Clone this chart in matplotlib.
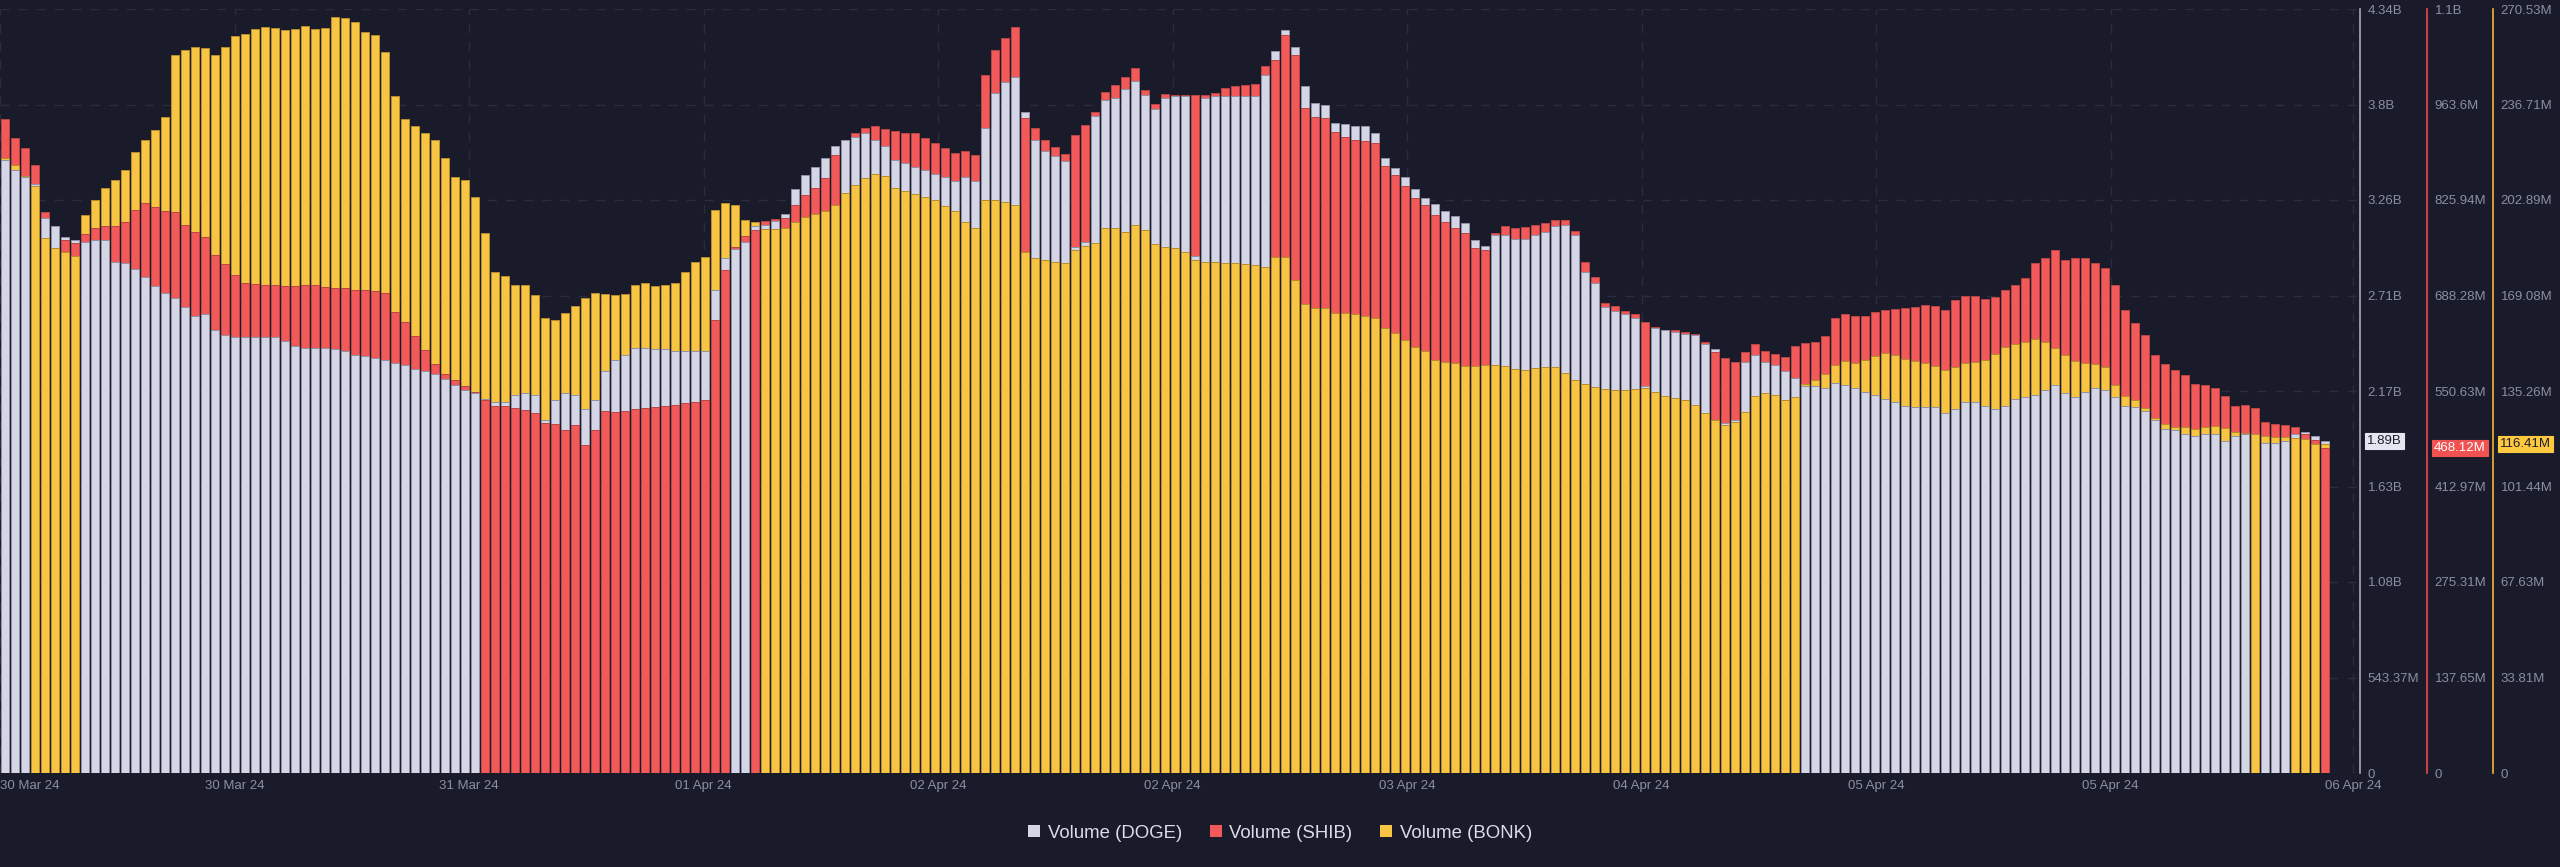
from __future__ import annotations

import matplotlib

matplotlib.use("Agg")

import matplotlib.pyplot as plt
import numpy as np
from matplotlib.patches import Rectangle
from matplotlib.transforms import ScaledTranslation, blended_transform_factory


OUTPUT = "out.png"

# Rolling volume, one bar every ~45 min, 30 Mar 24 -> 06 Apr 24
DOGE_VOLUME_B = [
    3.49, 3.43, 3.39, 3.35, 3.16, 3.11, 3.05, 3.03, 3.02, 3.03,
    3.03, 2.91, 2.90, 2.87, 2.82, 2.77, 2.73, 2.70, 2.65, 2.60,
    2.61, 2.52, 2.49, 2.48, 2.48, 2.48, 2.48, 2.48, 2.46, 2.43,
    2.42, 2.42, 2.42, 2.41, 2.40, 2.38, 2.37, 2.36, 2.35, 2.33,
    2.32, 2.30, 2.29, 2.27, 2.24, 2.21, 2.18, 2.16, 2.13, 2.11,
    2.11, 2.15, 2.16, 2.15, 2.01, 2.12, 2.16, 2.15, 2.07, 2.12,
    2.29, 2.35, 2.38, 2.42, 2.42, 2.41, 2.41, 2.40, 2.40, 2.40,
    2.40, 2.75, 2.93, 2.98, 3.02, 3.11, 3.12, 3.14, 3.18, 3.32,
    3.40, 3.45, 3.50, 3.57, 3.60, 3.62, 3.64, 3.60, 3.57, 3.49,
    3.47, 3.45, 3.43, 3.41, 3.39, 3.37, 3.39, 3.37, 3.67, 3.87,
    3.93, 3.96, 3.76, 3.60, 3.54, 3.51, 3.48, 2.99, 3.02, 3.74,
    3.83, 3.84, 3.89, 3.94, 3.86, 3.78, 3.84, 3.85, 3.85, 2.94,
    3.84, 3.85, 3.85, 3.85, 3.85, 3.85, 3.97, 4.11, 4.23, 4.13,
    3.91, 3.81, 3.80, 3.70, 3.69, 3.68, 3.68, 3.64, 3.50, 3.44,
    3.39, 3.32, 3.27, 3.24, 3.20, 3.17, 3.13, 3.03, 3.00, 3.06,
    3.06, 3.04, 3.04, 3.06, 3.08, 3.11, 3.12, 3.06, 2.85, 2.79,
    2.65, 2.63, 2.61, 2.59, 2.20, 2.53, 2.52, 2.51, 2.50, 2.49,
    2.44, 2.41, 1.99, 2.01, 2.34, 2.38, 2.34, 2.32, 2.29, 2.25,
    2.20, 2.20, 2.19, 2.22, 2.21, 2.19, 2.17, 2.15, 2.13, 2.11,
    2.09, 2.08, 2.08, 2.08, 2.05, 2.07, 2.11, 2.11, 2.09, 2.07,
    2.09, 2.13, 2.14, 2.15, 2.18, 2.21, 2.16, 2.14, 2.17, 2.19,
    2.18, 2.14, 2.09, 2.08, 2.06, 2.01, 1.96, 1.95, 1.93, 1.92,
    1.93, 1.93, 1.89, 1.92, 1.93, 1.93, 1.88, 1.88, 1.89, 1.93,
    1.94, 1.92, 1.89,
]

SHIB_VOLUME_M = [
    943, 915, 901, 876, 809, 788, 768, 764, 777, 786,
    788, 788, 794, 812, 822, 816, 810, 809, 790, 780,
    773, 747, 734, 718, 706, 705, 703, 703, 702, 702,
    703, 703, 701, 699, 699, 696, 696, 695, 692, 664,
    650, 630, 610, 590, 575, 566, 558, 549, 538, 529,
    529, 526, 523, 519, 504, 503, 494, 502, 473, 494,
    522, 520, 522, 525, 526, 528, 529, 530, 533, 535,
    538, 653, 725, 758, 774, 783, 796, 799, 800, 819,
    833, 843, 858, 891, 912, 922, 930, 933, 928, 925,
    922, 922, 915, 908, 901, 894, 897, 891, 1006, 1042,
    1059, 1075, 944, 930, 912, 902, 892, 920, 934, 953,
    982, 992, 1003, 1016, 984, 964, 979, 977, 977, 977,
    977, 980, 987, 990, 992, 993, 1019, 1028, 1064, 1035,
    959, 946, 944, 924, 917, 912, 911, 908, 875, 862,
    846, 829, 819, 804, 794, 786, 778, 757, 754, 778,
    788, 786, 787, 790, 793, 797, 797, 781, 737, 715,
    677, 673, 666, 662, 650, 643, 639, 639, 636, 633,
    621, 607, 598, 592, 607, 618, 608, 604, 600, 615,
    620, 621, 630, 656, 662, 659, 659, 664, 667, 669,
    670, 672, 675, 673, 667, 682, 688, 688, 683, 686,
    696, 703, 713, 735, 742, 754, 739, 742, 742, 735,
    728, 703, 667, 649, 631, 602, 590, 581, 574, 561,
    559, 555, 543, 529, 530, 526, 506, 503, 502, 499,
    489, 480, 468.1,
]

BONK_VOLUME_M = [
    217.8, 215.3, 211.4, 207.9, 189.4, 185.9, 184.5, 183.1, 197.6, 202.9,
    207.1, 210.0, 213.5, 219.9, 224.1, 227.7, 232.3, 254.2, 256.0, 257.1,
    256.7, 254.2, 257.1, 261.0, 261.7, 263.4, 264.2, 263.8, 263.1, 263.4,
    264.5, 263.4, 263.8, 267.7, 267.3, 265.9, 262.4, 261.3, 255.3, 239.7,
    231.6, 229.1, 226.6, 224.1, 217.8, 211.0, 210.0, 204.0, 191.2, 177.4,
    176.0, 172.8, 172.8, 169.3, 161.1, 160.4, 162.9, 165.4, 168.2, 170.0,
    169.6, 169.3, 169.6, 172.8, 173.5, 172.4, 172.8, 173.5, 177.4, 180.9,
    182.7, 199.4, 201.8, 201.1, 195.8, 195.1, 192.6, 192.6, 193.0, 195.1,
    196.9, 197.9, 199.0, 201.1, 205.4, 208.2, 210.7, 212.1, 211.4, 207.1,
    206.1, 205.0, 204.0, 202.9, 200.8, 199.0, 195.1, 193.0, 202.9, 202.9,
    202.2, 201.1, 184.5, 182.4, 181.7, 180.9, 180.6, 185.2, 186.6, 187.7,
    193.0, 193.0, 191.6, 194.0, 192.3, 187.3, 186.3, 185.9, 184.5, 181.7,
    180.9, 180.9, 180.6, 180.6, 180.2, 179.9, 179.2, 182.7, 182.7, 174.6,
    166.1, 164.7, 164.7, 162.9, 162.9, 162.5, 161.8, 161.1, 157.6, 155.8,
    153.3, 150.8, 149.4, 146.2, 145.5, 145.2, 144.1, 144.1, 144.5, 144.5,
    144.1, 143.1, 142.7, 143.4, 143.8, 143.8, 141.6, 139.2, 137.7, 136.7,
    136.0, 135.6, 135.6, 136.0, 136.3, 134.9, 133.5, 132.8, 132.1, 130.3,
    127.5, 125.0, 123.2, 124.3, 127.8, 133.5, 134.6, 133.8, 132.1, 133.1,
    137.7, 139.2, 141.3, 144.5, 145.9, 145.2, 146.2, 147.7, 148.7, 148.0,
    146.6, 145.9, 145.2, 144.1, 142.7, 143.8, 145.2, 145.5, 146.2, 148.4,
    150.8, 151.9, 152.6, 153.7, 152.6, 150.5, 148.0, 145.9, 145.2, 144.8,
    143.8, 137.4, 133.5, 132.1, 129.2, 125.7, 123.6, 122.5, 122.5, 121.8,
    122.5, 122.9, 122.2, 120.7, 120.4, 120.0, 119.3, 119.0, 119.0, 118.6,
    118.3, 116.5, 116.4,
]

SERIES_NAMES = ["Volume (DOGE)", "Volume (SHIB)", "Volume (BONK)"]
LAST_VALUE_LABELS = ["1.89B", "468.12M", "116.41M"]

DATE_LABELS = [
    "30 Mar 24", "30 Mar 24", "31 Mar 24", "01 Apr 24", "02 Apr 24", "02 Apr 24",
    "03 Apr 24", "04 Apr 24", "05 Apr 24", "05 Apr 24", "06 Apr 24",
]

DOGE_STEP_B = 0.54337
SHIB_STEP_M = 137.65
BONK_STEP_M = 33.816
DOGE_TICK_LABELS = ["0", "543.37M", "1.08B", "1.63B", "2.17B", "2.71B", "3.26B", "3.8B", "4.34B"]
SHIB_TICK_LABELS = ["0", "137.65M", "275.31M", "412.97M", "550.63M", "688.28M", "825.94M", "963.6M", "1.1B"]
BONK_TICK_LABELS = ["0", "33.81M", "67.63M", "101.44M", "135.26M", "169.08M", "202.89M", "236.71M", "270.53M"]


BG = "#191b2a"
GRID = "#2a2d3e"
MUTED = "#8b8fa3"
FILLS = ["#d4d5e5", "#f25a5a", "#f7c443"]
EDGES = ["#8f91a6", "#b94545", "#b58d2c"]
SPINES = ["#a9abbd", "#f04848", "#f2b534"]
BADGE_BG = ["#e4e5f0", "#f05252", "#ffc93f"]
BADGE_FG = ["#1b1d2c", "#ffffff", "#1b1d2c"]

# plot area in pixels of the 2560x867 canvas
PLOT_W_PX = 2360
BAR_PX = 10


def main() -> None:
    plt.rcParams["font.family"] = ["Liberation Sans", "DejaVu Sans"]

    fig = plt.figure(figsize=(25.6, 8.67), dpi=100, facecolor=BG)
    ax = fig.add_axes([0.0, 94 / 867, PLOT_W_PX / 2560, 764 / 867])
    ax.set_facecolor(BG)
    ax_shib = ax.twinx()
    ax_bonk = ax.twinx()
    axes = [ax, ax_shib, ax_bonk]

    values = [np.array(DOGE_VOLUME_B), np.array(SHIB_VOLUME_M), np.array(BONK_VOLUME_M)]
    steps = [DOGE_STEP_B, SHIB_STEP_M, BONK_STEP_M]
    tick_labels = [DOGE_TICK_LABELS, SHIB_TICK_LABELS, BONK_TICK_LABELS]
    tops = [8 * s for s in steps]
    x = np.arange(len(DOGE_VOLUME_B))

    # tallest bar goes behind, smallest in front, for every timestamp
    norm = np.vstack([v / t for v, t in zip(values, tops)])
    rank = np.argsort(np.argsort(-norm, axis=0), axis=0)

    for k, (a, v) in enumerate(zip(axes, values)):
        bars = ax.bar(
            x, v, width=0.76, color=FILLS[k], edgecolor=EDGES[k],
            linewidth=0.7, transform=a.transData,
        )
        for patch, r in zip(bars.patches, rank[k]):
            patch.set_zorder(2 + r)

    # date ticks every ~234.5 px, last label sits under the final bar
    tick_px = np.append(234.5 * np.arange(10), 2353)
    ax.set_xticks((tick_px - BAR_PX / 2) / BAR_PX, DATE_LABELS)
    first = ax.get_xticklabels()[0]
    first.set_horizontalalignment("left")
    first.set_transform(first.get_transform() + ScaledTranslation(4 / 72, 0, fig.dpi_scale_trans))
    ax.tick_params(axis="x", length=0, pad=5, labelsize=9.5, labelcolor=MUTED)
    ax.set_xlim(-0.5, PLOT_W_PX / BAR_PX - 0.5)

    for a, top in zip(axes, tops):
        a.set_ylim(0, top)

    spine_pos = [1.0, 2427 / PLOT_W_PX, 2493 / PLOT_W_PX]
    for k, a in enumerate(axes):
        for side in ("top", "bottom", "left"):
            a.spines[side].set_visible(False)
        a.spines["right"].set_visible(True)
        a.spines["right"].set_color(SPINES[k])
        a.spines["right"].set_linewidth(1.2)
        a.spines["right"].set_position(("axes", spine_pos[k]))
        a.yaxis.tick_right()
        a.set_yticks(np.arange(9) * steps[k], tick_labels[k])
        a.tick_params(axis="y", length=0, pad=5.5, labelsize=9.5, labelcolor=MUTED)

    ax.set_axisbelow(True)
    ax.grid(True, color=GRID, linestyle=(0, (6.5, 6.5)), linewidth=1.0)

    badge_x = [2367 / PLOT_W_PX, 2434 / PLOT_W_PX, 2500 / PLOT_W_PX]
    for k, a in enumerate(axes):
        trans = blended_transform_factory(ax.transAxes, a.transData)
        ax.text(
            badge_x[k], values[k][-1], LAST_VALUE_LABELS[k], transform=trans,
            ha="left", va="center", fontsize=9.5, color=BADGE_FG[k],
            bbox={"boxstyle": "square,pad=0.15", "fc": BADGE_BG[k], "ec": BADGE_BG[k], "lw": 0.8},
            zorder=10, clip_on=False,
        )

    handles = [Rectangle((0, 0), 1, 1, fc=c, ec="none") for c in FILLS]
    fig.legend(
        handles, SERIES_NAMES, loc="center", bbox_to_anchor=(0.5, 34 / 867), ncol=3,
        frameon=False, fontsize=13.4, labelcolor="#dcdde6", handlelength=0.65,
        handleheight=0.65, handletextpad=0.4, columnspacing=1.5,
    )

    fig.savefig(OUTPUT, facecolor=BG)
    plt.close(fig)


if __name__ == "__main__":
    main()
